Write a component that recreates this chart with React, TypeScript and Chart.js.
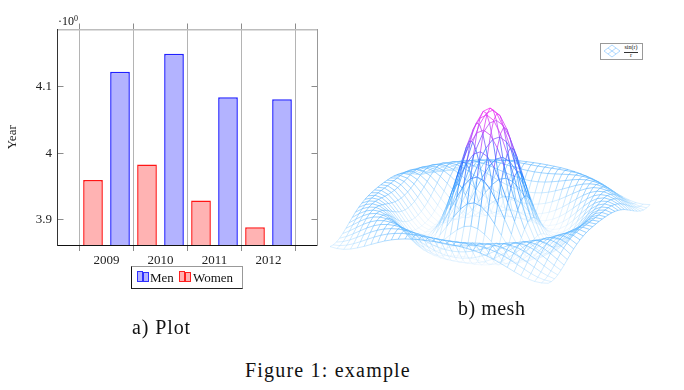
import React, { useEffect, useRef } from "react";
import { Chart, registerables } from "chart.js";

Chart.register(...registerables);

const SERIF = "'Liberation Serif', serif";

// ---- Bar panel data ----
const years = [2009, 2010, 2011, 2012];
const menValues = [4.122, 4.149, 4.084, 4.081];
const womenValues = [3.96, 3.983, 3.929, 3.889];
const yTicks = [3.9, 4, 4.1];
const yTickLabels = ["3.9", "4", "4.1"];

// ---- Mesh panel data: surface height at grid steps (a, b), with b <= a, step 0.5 ----
const heights = [
  [1.0],
  [0.959, 0.919],
  [0.841, 0.805, 0.698],
  [0.665, 0.632, 0.54, 0.402],
  [0.455, 0.428, 0.352, 0.239, 0.109],
  [0.239, 0.219, 0.161, 0.077, -0.019, -0.109],
  [0.047, 0.033, -0.007, -0.063, -0.124, -0.177, -0.21],
  [-0.1, -0.109, -0.131, -0.162, -0.193, -0.213, -0.216, -0.196],
  [-0.189, -0.193, -0.202, -0.212, -0.217, -0.212, -0.192, -0.155, -0.104],
  [-0.217, -0.217, -0.216, -0.211, -0.199, -0.176, -0.142, -0.096, -0.043, 0.013],
  [-0.192, -0.189, -0.182, -0.167, -0.145, -0.114, -0.075, -0.029, 0.019, 0.064, 0.1],
  [-0.128, -0.125, -0.114, -0.096, -0.071, -0.04, -0.003, 0.036, 0.073, 0.103, 0.123, 0.128],
  [-0.047, -0.043, -0.033, -0.016, 0.007, 0.033, 0.061, 0.089, 0.111, 0.125, 0.128, 0.118, 0.095],
  [0.033, 0.036, 0.044, 0.057, 0.073, 0.09, 0.107, 0.121, 0.128, 0.126, 0.115, 0.093, 0.062, 0.025],
  [0.094, 0.096, 0.1, 0.107, 0.115, 0.123, 0.128, 0.128, 0.121, 0.107, 0.085, 0.056, 0.022, -0.013, -0.046],
  [0.125, 0.126, 0.127, 0.128, 0.128, 0.126, 0.121, 0.11, 0.094, 0.072, 0.044, 0.013, -0.019, -0.048, -0.072, -0.087],
  [0.124, 0.123, 0.121, 0.118, 0.112, 0.103, 0.09, 0.073, 0.052, 0.026, -0.001, -0.029, -0.054, -0.075, -0.088, -0.091, -0.084],
];
const GRID_STEP = 0.5;
const GRID_HALF = 16;
const colorStops = [
  [-0.22, 205, 232, 255, 0.3],
  [-0.05, 150, 210, 255, 0.55],
  [0.13, 80, 175, 255, 0.8],
  [0.35, 20, 130, 255, 0.95],
  [0.55, 70, 90, 255, 1],
  [0.7, 170, 70, 250, 1],
  [1, 250, 40, 240, 1],
];

// view{25}{30}
const COS_AZ = 0.9063;
const SIN_AZ = 0.4226;
const SIN_EL = 0.5;
const DEPTH_TO_Z = 0.1;

function heightAt(i: number, j: number) {
  const a = Math.abs(i);
  const b = Math.abs(j);
  return heights[Math.max(a, b)][Math.min(a, b)];
}

function projected(i: number, j: number) {
  const x = i * GRID_STEP;
  const y = j * GRID_STEP;
  const z = heightAt(i, j);
  return {
    x: COS_AZ * x + SIN_AZ * y,
    y: z + DEPTH_TO_Z * (COS_AZ * SIN_EL * y - SIN_AZ * SIN_EL * x),
    z,
  };
}

function meshLines() {
  const lines: any[] = [];
  const idx: number[] = [];
  for (let k = -GRID_HALF; k <= GRID_HALF; k++) idx.push(k);
  idx.forEach((k) => {
    lines.push(idx.map((m) => projected(k, m)));
    lines.push(idx.map((m) => projected(m, k)));
  });
  return lines;
}

function rampColor(z: number) {
  let s = colorStops[0];
  let e = colorStops[colorStops.length - 1];
  for (let i = 0; i < colorStops.length - 1; i++) {
    if (z >= colorStops[i][0] && z <= colorStops[i + 1][0]) {
      s = colorStops[i];
      e = colorStops[i + 1];
      break;
    }
  }
  const t = Math.min(1, Math.max(0, (z - s[0]) / (e[0] - s[0])));
  const c = [1, 2, 3, 4].map((n) => s[n] + (e[n] - s[n]) * t);
  return `rgba(${Math.round(c[0])},${Math.round(c[1])},${Math.round(c[2])},${c[3].toFixed(2)})`;
}

const tickFont = { family: SERIF, size: 13 };
const gridTicks = [...years.map((y) => y - 0.5), years[years.length - 1] + 0.5];
const setXTicks = (s: any) => {
  s.ticks = gridTicks.map((value) => ({ value }));
};
const setYTicks = (s: any) => {
  s.ticks = yTicks.map((value) => ({ value }));
};

function barConfig(): any {
  const pairs = (vals: number[]) => years.map((x, i) => ({ x, y: vals[i] }));
  const barStyle = { categoryPercentage: 1, barPercentage: 0.73, borderWidth: 1.5, borderSkipped: false };
  const X_MIN = 2008.0926;
  const X_MAX = 2012.9074;
  const Y_MIN = 3.8625;
  const Y_MAX = 4.1854;
  return {
    type: "bar",
    data: {
      datasets: [
        { label: "Women", data: pairs(womenValues), backgroundColor: "#ffb3b3", borderColor: "#ff1515", ...barStyle },
        { label: "Men", data: pairs(menValues), backgroundColor: "#b3b3ff", borderColor: "#2020ff", ...barStyle },
      ],
    },
    options: {
      animation: false,
      responsive: false,
      plugins: { legend: { display: false }, tooltip: { enabled: false } },
      scales: {
        x: {
          type: "linear",
          position: "bottom",
          offset: false,
          min: X_MIN,
          max: X_MAX,
          afterBuildTicks: setXTicks,
          afterFit: (s: any) => { s.height = 55; },
          grid: { offset: false, color: "#b4b4b4", tickColor: "#8c8c8c", tickLength: 6, lineWidth: 1 },
          border: { color: "#111", width: 1 },
          ticks: {
            autoSkip: false,
            maxRotation: 0,
            font: tickFont,
            color: "#222",
            padding: 2,
            labelOffset: 27,
            callback: (_v: any, i: number) => (i < years.length ? String(years[i]) : ""),
          },
        },
        xTop: {
          type: "linear",
          position: "top",
          offset: false,
          min: X_MIN,
          max: X_MAX,
          afterBuildTicks: setXTicks,
          afterFit: (s: any) => { s.height = 29.5; },
          grid: { offset: false, drawOnChartArea: false, tickColor: "#8c8c8c", tickLength: 6 },
          border: { color: "#bdbdbd", width: 1.5 },
          ticks: { display: false },
        },
        y: {
          min: Y_MIN,
          max: Y_MAX,
          afterBuildTicks: setYTicks,
          afterFit: (s: any) => { s.width = 57.5; },
          grid: { drawOnChartArea: false, tickColor: "#8c8c8c", tickLength: -6 },
          border: { color: "#333", width: 1 },
          title: { display: true, text: "Year", font: tickFont, color: "#222", padding: { top: 5, bottom: 0 } },
          ticks: {
            font: tickFont,
            color: "#222",
            padding: 11.5,
            callback: (v: any) => yTickLabels[yTicks.findIndex((t) => Math.abs(t - v) < 1e-6)],
          },
        },
        yRight: {
          position: "right",
          min: Y_MIN,
          max: Y_MAX,
          afterBuildTicks: setYTicks,
          afterFit: (s: any) => { s.width = 12.5; },
          grid: { drawOnChartArea: false, tickColor: "#8c8c8c", tickLength: -6 },
          border: { color: "#999", width: 1 },
          ticks: { display: false },
        },
      },
    },
  };
}

function meshConfig(): any {
  const PX_PER_UNIT = 15.05;
  const PX_PER_Z = 108.5;
  return {
    type: "scatter",
    data: {
      datasets: meshLines().map((data) => ({
        data,
        showLine: true,
        pointRadius: 0,
        borderWidth: 0.75,
        borderColor: "#8cc8ff",
        segment: {
          borderColor: (ctx: any) => {
            const d = ctx.chart.data.datasets[ctx.datasetIndex].data;
            return rampColor((d[ctx.p0DataIndex].z + d[ctx.p1DataIndex].z) / 2);
          },
        },
      })),
    },
    options: {
      animation: false,
      responsive: false,
      events: [],
      plugins: { legend: { display: false }, tooltip: { enabled: false } },
      scales: {
        x: { display: false, min: -170 / PX_PER_UNIT, max: 180 / PX_PER_UNIT },
        y: { display: false, min: -83.5 / PX_PER_Z, max: 126.5 / PX_PER_Z },
      },
    },
  };
}

const abs = (left: number, top: number, extra: any = {}): any => ({
  position: "absolute",
  left,
  top,
  fontFamily: SERIF,
  color: "#111",
  whiteSpace: "nowrap",
  ...extra,
});

function Swatch({ left, stroke, fill }: { left: number; stroke: string; fill: string }) {
  const bar = (x: number, h: number) => (
    <div style={{ position: "absolute", left: x, top: 10 - h, width: 4, height: h, background: fill, border: `1px solid ${stroke}`, boxSizing: "content-box" }} />
  );
  return (
    <div style={{ position: "absolute", left, top: 3, width: 12, height: 12 }}>
      {bar(0, 9)}
      {bar(6, 8)}
    </div>
  );
}

export default function App() {
  const barRef = useRef<HTMLCanvasElement>(null);
  const meshRef = useRef<HTMLCanvasElement>(null);
  useEffect(() => {
    const a = new Chart(barRef.current as any, barConfig());
    const b = new Chart(meshRef.current as any, meshConfig());
    return () => {
      a.destroy();
      b.destroy();
    };
  }, []);
  return (
    <div style={{ position: "absolute", left: 0, top: 0, width: 684, height: 390, overflow: "hidden", background: "#fff" }}>
      <canvas ref={barRef} width={330} height={300} style={{ position: "absolute", left: 0, top: 0, display: "block" }} />
      <canvas ref={meshRef} width={350} height={210} style={{ position: "absolute", left: 320, top: 90, display: "block" }} />

      <div style={abs(58, 14, { fontSize: 12, lineHeight: "14px" })}>
        ·10<sup style={{ fontSize: 8, lineHeight: 0, verticalAlign: "4px" }}>0</sup>
      </div>

      <div
        style={{
          position: "absolute", left: 131, top: 266, width: 112, height: 23, boxSizing: "border-box",
          borderLeft: "1px solid #111", borderBottom: "1px solid #222", borderTop: "1px solid #999", borderRight: "1px solid #999",
        }}
      >
        <Swatch left={5} stroke="#3030ff" fill="#b3b3ff" />
        <div style={abs(18, 3, { fontSize: 13, lineHeight: "15px" })}>Men</div>
        <Swatch left={47} stroke="#ff2020" fill="#ffb3b3" />
        <div style={abs(61, 3, { fontSize: 13, lineHeight: "15px" })}>Women</div>
      </div>

      <div style={{ position: "absolute", left: 600, top: 43, width: 43, height: 17, boxSizing: "border-box", border: "1px solid #999" }}>
        <svg width="20" height="15" style={{ position: "absolute", left: 1, top: 0 }}>
          <path d="M2 7 L10 1 L18 7 L10 13 Z M6 4 L14 10 M14 4 L6 10" fill="none" stroke="#9ccfff" strokeWidth="0.8" />
        </svg>
        <div style={abs(20, 0, { fontSize: 6, lineHeight: "7px", width: 20, textAlign: "center" })}>sin(r)</div>
        <div style={{ position: "absolute", left: 23, top: 7.5, width: 14, height: 0, borderTop: "0.6px solid #333" }} />
        <div style={abs(20, 8, { fontSize: 6, lineHeight: "7px", width: 20, textAlign: "center" })}>r</div>
      </div>

      <div style={abs(132, 315, { fontSize: 20, lineHeight: "24px", letterSpacing: "0.9px" })}>a) Plot</div>
      <div style={abs(458, 296, { fontSize: 20, lineHeight: "24px", letterSpacing: "0.5px" })}>b) mesh</div>
      <div style={abs(245, 358, { fontSize: 20, lineHeight: "24px", letterSpacing: "1.2px" })}>Figure 1: example</div>
    </div>
  );
}
